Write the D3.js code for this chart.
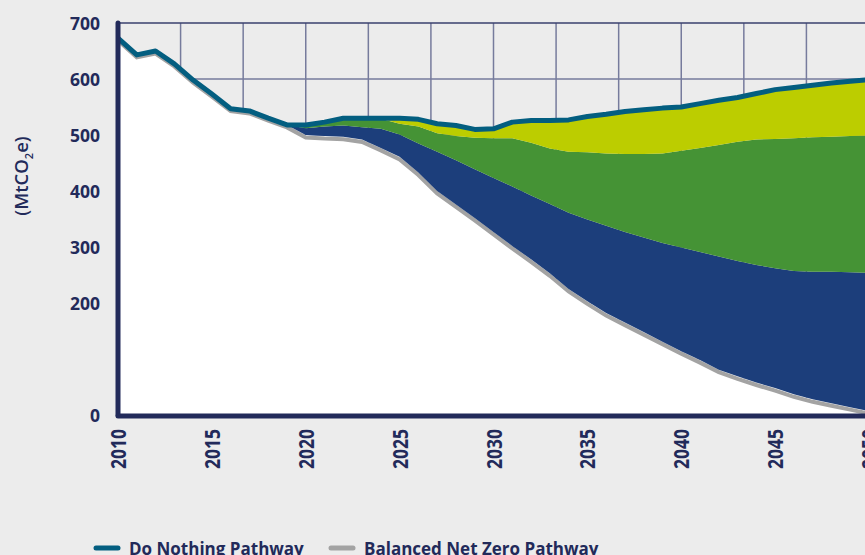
<!DOCTYPE html>
<meta charset="utf-8">
<title>Emissions pathways</title>
<script src="https://d3js.org/d3.v7.min.js"></script>
<style>
  body { margin: 0; background: #ececec; }
  svg { display: block; font-family: "Open Sans", Lato, sans-serif; }
  .tick text { fill: #222a5a; font-weight: 700; font-family: "Open Sans", sans-serif; }
</style>
<body>
<svg width="865" height="555"></svg>
<script>
// emissions, MtCO2e
var years = d3.range(2010, 2051);

var doNothing = [673, 643, 650, 627, 598, 573, 547, 543, 530, 518,
  518, 523, 530, 530, 530, 530, 528, 520, 517, 510,
  511, 523, 526, 526, 527, 533, 537, 542, 545, 548,
  550, 556, 562, 567, 574, 581, 585, 589, 593, 596, 599];

var balancedNetZero = [673, 643, 650, 627, 598, 573, 547, 543, 530, 518,
  500, 498, 497, 492, 477, 461, 433, 400, 376, 352,
  327, 302, 278, 253, 225, 203, 182, 165, 148, 131,
  114, 98, 81, 69, 58, 48, 37, 28, 21, 14, 7];

// the three wedges between the two pathways (bottom to top)
var wedgeBlue = [0, 0, 0, 0, 0, 0, 0, 0, 0, 0,
  12, 17, 20, 22, 34, 40, 52, 70, 79, 87,
  96, 106, 114, 124, 136, 146, 156, 162, 169, 176,
  185, 193, 202, 206, 210, 214, 220, 228, 235, 241, 247];

var wedgeGreen = [0, 0, 0, 0, 0, 0, 0, 0, 0, 0,
  6, 8, 13, 16, 18, 19, 30, 33, 43, 56,
  71, 86, 94, 99, 109, 120, 129, 139, 149, 160,
  173, 186, 199, 213, 224, 231, 237, 240, 241, 243, 245];

var wedgeYellow = [0, 0, 0, 0, 0, 0, 0, 0, 0, 0,
  0, 0, 0, 0, 1, 10, 13, 17, 19, 15,
  17, 29, 40, 50, 57, 64, 70, 76, 79, 81,
  78, 79, 80, 79, 82, 88, 91, 93, 96, 98, 100];

var yTicks = [0, 200, 300, 400, 500, 600, 700];
var xTicks = d3.range(2010, 2051, 5);

var navy = "#222a5a";

var svg = d3.select("svg");

var x = d3.scaleLinear().domain([2010, 2050]).range([118, 869]);
var y = d3.scaleLinear().domain([0, 700]).range([415, 23]);

// grid: 12 columns across the plot, a line every 100
var grid = svg.append("g");
grid.selectAll("line.v")
  .data(d3.range(1, 12))
  .enter().append("line")
  .attr("x1", function (k) { return x(2010 + k * 40 / 12); })
  .attr("x2", function (k) { return x(2010 + k * 40 / 12); })
  .attr("y1", y(700)).attr("y2", y(0))
  .attr("stroke", "#767b9c").attr("stroke-width", 1.5);
grid.selectAll("line.h")
  .data(d3.range(100, 701, 100))
  .enter().append("line")
  .attr("x1", x(2010)).attr("x2", x(2050))
  .attr("y1", function (d) { return y(d); })
  .attr("y2", function (d) { return y(d); })
  .attr("stroke", function (d) { return d == 700 ? "#3a406e" : "#767b9c"; })
  .attr("stroke-width", 1.5);

var rows = years.map(function (yr, i) {
  return { year: yr, bnz: balancedNetZero[i], blue: wedgeBlue[i], green: wedgeGreen[i], yellow: wedgeYellow[i] };
});

var stack = d3.stack().keys(["bnz", "blue", "green", "yellow"]);
var layers = stack(rows);
var fills = { bnz: "#ffffff", blue: "#1c3e7b", green: "#459335", yellow: "#bccd00" };

var area = d3.area()
  .x(function (d) { return x(d.data.year); })
  .y0(function (d) { return y(d[0]); })
  .y1(function (d) { return y(d[1]); });

var line = d3.line()
  .x(function (d) { return x(d.year); })
  .y(function (d) { return y(d.v); });

// white area under the net zero pathway
svg.append("path")
  .datum(layers[0])
  .attr("fill", fills.bnz)
  .attr("d", area);

// grey net zero line sits slightly low, like a shadow
svg.append("path")
  .datum(years.map(function (yr, i) { return { year: yr, v: balancedNetZero[i] }; }))
  .attr("fill", "none")
  .attr("stroke", "#a3a3a3")
  .attr("stroke-width", 4)
  .attr("transform", "translate(0,2.5)")
  .attr("d", line);

svg.append("g").selectAll("path")
  .data(layers.slice(1))
  .enter().append("path")
  .attr("fill", function (d) { return fills[d.key]; })
  .attr("d", area);

svg.append("path")
  .datum(years.map(function (yr, i) { return { year: yr, v: doNothing[i] }; }))
  .attr("fill", "none")
  .attr("stroke", "#035e80")
  .attr("stroke-width", 5)
  .attr("stroke-linejoin", "round")
  .attr("d", line);

// axis lines
svg.append("line")
  .attr("x1", x(2010)).attr("x2", x(2010))
  .attr("y1", y(700)).attr("y2", y(0))
  .attr("stroke", navy).attr("stroke-width", 5).attr("stroke-linecap", "round");
svg.append("line")
  .attr("x1", x(2010)).attr("x2", x(2050) + 10)
  .attr("y1", y(0) + 1).attr("y2", y(0) + 1)
  .attr("stroke", navy).attr("stroke-width", 5).attr("stroke-linecap", "round");

var yAxis = svg.append("g")
  .attr("transform", "translate(" + (x(2010) - 18) + ",0)")
  .call(d3.axisLeft(y).tickValues(yTicks).tickSize(0).tickPadding(0));
yAxis.select(".domain").remove();
yAxis.selectAll("text").style("font-size", "17.5px").attr("dy", "0.36em");

var xAxis = svg.append("g")
  .attr("transform", "translate(0," + (y(0) + 14) + ")")
  .call(d3.axisBottom(x).tickValues(xTicks).tickFormat(d3.format("d")).tickSize(0).tickPadding(0));
xAxis.select(".domain").remove();
xAxis.selectAll("text")
  .style("font-size", "21px")
  .attr("text-anchor", "end")
  .attr("textLength", 40)
  .attr("lengthAdjust", "spacingAndGlyphs")
  .attr("transform", "rotate(-90)")
  .attr("x", 0).attr("y", 0).attr("dy", "0.36em");

// y axis title
var title = svg.append("text")
  .attr("transform", "translate(28,176) rotate(-90)")
  .attr("text-anchor", "middle")
  .attr("fill", navy)
  .style("font-size", "18.5px")
  .style("font-weight", 600);
title.append("tspan").text("(MtCO");
title.append("tspan").text("2").attr("dy", 5).style("font-size", "11px");
title.append("tspan").text("e)").attr("dy", -5);

// legend
var legend = [
  { label: "Do Nothing Pathway", color: "#035e80", x: 96 },
  { label: "Balanced Net Zero Pathway", color: "#a3a3a3", x: 331 }
];
var lg = svg.append("g").selectAll("g")
  .data(legend)
  .enter().append("g")
  .attr("transform", function (d) { return "translate(" + d.x + ",548)"; });
lg.append("line")
  .attr("x1", 0).attr("x2", 22)
  .attr("stroke", function (d) { return d.color; })
  .attr("stroke-width", 5).attr("stroke-linecap", "round");
lg.append("text")
  .attr("x", 33).attr("y", 6.5)
  .attr("fill", navy)
  .style("font-size", "17px")
  .style("font-weight", 700)
  .text(function (d) { return d.label; });
</script>
</body>
